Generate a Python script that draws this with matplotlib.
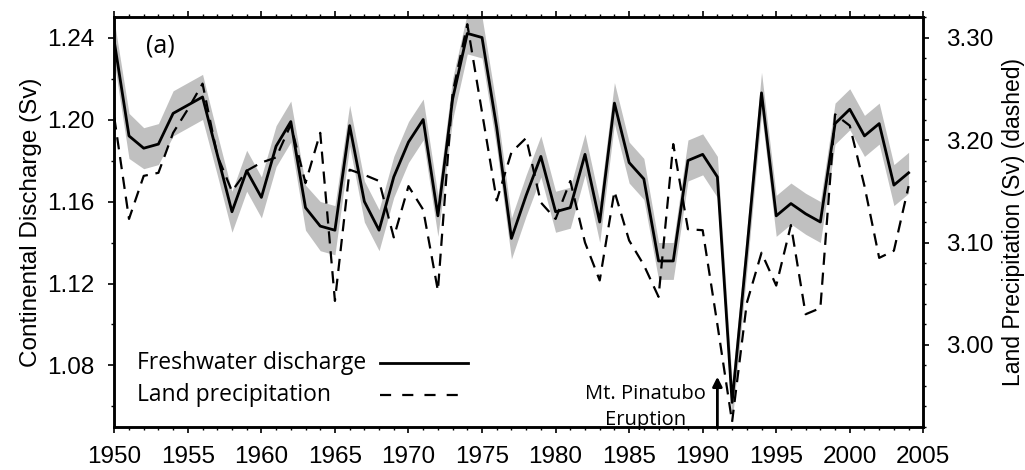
import matplotlib
matplotlib.use("Agg")
import matplotlib.pyplot as plt
from matplotlib.ticker import MultipleLocator
import numpy as np

years = list(range(1950, 2005))

discharge = [1.238, 1.192, 1.186, 1.188, 1.203, 1.207, 1.211, 1.183, 1.155, 1.175,
             1.162, 1.187, 1.199, 1.157, 1.148, 1.146, 1.197, 1.160, 1.146, 1.172,
             1.189, 1.200, 1.153, 1.210, 1.242, 1.240, 1.196, 1.142, 1.163, 1.182,
             1.155, 1.157, 1.183, 1.150, 1.208, 1.179, 1.171, 1.131, 1.131, 1.180,
             1.183, 1.172, 1.062, 1.136, 1.213, 1.153, 1.159, 1.154, 1.150, 1.198,
             1.205, 1.192, 1.198, 1.168, 1.174]

# half width of the grey uncertainty band (Sv)
band = [0.010, 0.011, 0.010, 0.010, 0.011, 0.011, 0.011, 0.010, 0.010, 0.010,
        0.010, 0.010, 0.010, 0.011, 0.012, 0.012, 0.010, 0.010, 0.010, 0.010,
        0.010, 0.010, 0.010, 0.010, 0.010, 0.010, 0.010, 0.010, 0.010, 0.010,
        0.010, 0.010, 0.010, 0.010, 0.010, 0.010, 0.010, 0.009, 0.009, 0.010,
        0.010, 0.010, 0.010, 0.010, 0.010, 0.010, 0.010, 0.010, 0.010, 0.010,
        0.010, 0.010, 0.010, 0.010, 0.010]

precip = [3.222, 3.123, 3.165, 3.168, 3.207, 3.230, 3.255, 3.185, 3.150, 3.170,
          3.178, 3.183, 3.215, 3.158, 3.207, 3.043, 3.171, 3.166, 3.160, 3.105,
          3.155, 3.132, 3.053, 3.246, 3.313, 3.227, 3.141, 3.188, 3.202, 3.139,
          3.123, 3.160, 3.100, 3.063, 3.150, 3.102, 3.078, 3.047, 3.196, 3.113,
          3.112, 3.020, 2.925, 3.041, 3.090, 3.058, 3.117, 3.030, 3.036, 3.225,
          3.214, 3.155, 3.085, 3.092, 3.155]

left_ticks = [1.08, 1.12, 1.16, 1.20, 1.24]
right_ticks = [3.00, 3.10, 3.20, 3.30]
year_ticks = list(range(1950, 2006, 5))
legend_labels = ["Freshwater discharge", "Land precipitation"]

label_font = "Liberation Sans"
note_font = "Open Sans"
DASH = (5.5, 3.5)

fig = plt.figure(figsize=(10.25, 4.7), dpi=100)
ax = fig.add_axes([0.1115, 0.0915, 0.7893, 0.8723])
ax2 = ax.twinx()

d = np.array(discharge)
e = np.array(band)
ax.fill_between(years, d - e, d + e, color="#c0c0c0", lw=0, zorder=1)
ax.plot(years, discharge, color="black", lw=2.0, zorder=3)
ax2.plot(years, precip, color="black", lw=1.6, dashes=DASH)

ax.set_xlim(1950, 2005)
ax.set_ylim(1.05, 1.25)
ax2.set_ylim(2.92, 3.32)

ax.set_xticks(year_ticks)
ax.xaxis.set_minor_locator(MultipleLocator(1))
ax.set_yticks(left_ticks)
ax.set_yticklabels([f"{t:.2f}" for t in left_ticks])
ax.yaxis.set_minor_locator(MultipleLocator(0.02))
ax2.set_yticks(right_ticks)
ax2.set_yticklabels([f"{t:.2f}" for t in right_ticks])
ax2.yaxis.set_minor_locator(MultipleLocator(0.02))

ax.tick_params(axis="x", which="both", top=True, direction="out")
ax.tick_params(which="major", length=4.5, width=1.2, labelsize=17.5)
ax.tick_params(which="minor", length=2.5, width=1.0)
ax.tick_params(axis="x", which="major", pad=9)
ax.tick_params(axis="y", which="major", pad=9.5)
ax2.tick_params(which="major", length=4.5, width=1.2, labelsize=17.5, pad=12)
ax2.tick_params(which="minor", length=2.5, width=1.0)
for lab in ax.get_xticklabels() + ax.get_yticklabels() + ax2.get_yticklabels():
    lab.set_fontfamily(label_font)

for a in (ax, ax2):
    for s in a.spines.values():
        s.set_linewidth(1.8)

ax.set_ylabel("Continental Discharge (Sv)", fontsize=17.5, family=label_font, labelpad=4)
ax2.set_ylabel("Land Precipitation (Sv) (dashed)", fontsize=16.5, family=label_font, labelpad=6)

ax.text(1953.1, 1.236, "(a)", fontsize=18, family=note_font, ha="center", va="center")

# Pinatubo arrow
ax.annotate("", xy=(1991, 1.0745), xytext=(1991, 1.05),
            arrowprops=dict(arrowstyle="-|>", lw=2.0, color="black",
                            mutation_scale=14, shrinkA=0, shrinkB=0))
ax.text(1986.1, 1.0598, "Mt. Pinatubo\nEruption", fontsize=14.5, family=note_font,
        ha="center", va="center", multialignment="center", linespacing=1.4)

# legend: text on the left, line sample on the right
for i, (lab, dashes) in enumerate(zip(legend_labels, [None, DASH])):
    yy = 0.156 - i * 0.078
    ax2.text(0.028, yy, lab, transform=ax2.transAxes, fontsize=16.5,
             family=note_font, ha="left", va="center")
    kw = {"dashes": (5, 5)} if dashes else {}
    ax2.plot([0.3288, 0.4376], [yy, yy], transform=ax2.transAxes,
             color="black", lw=2.0 if dashes is None else 1.6, **kw)

fig.savefig("out.png", dpi=100)
